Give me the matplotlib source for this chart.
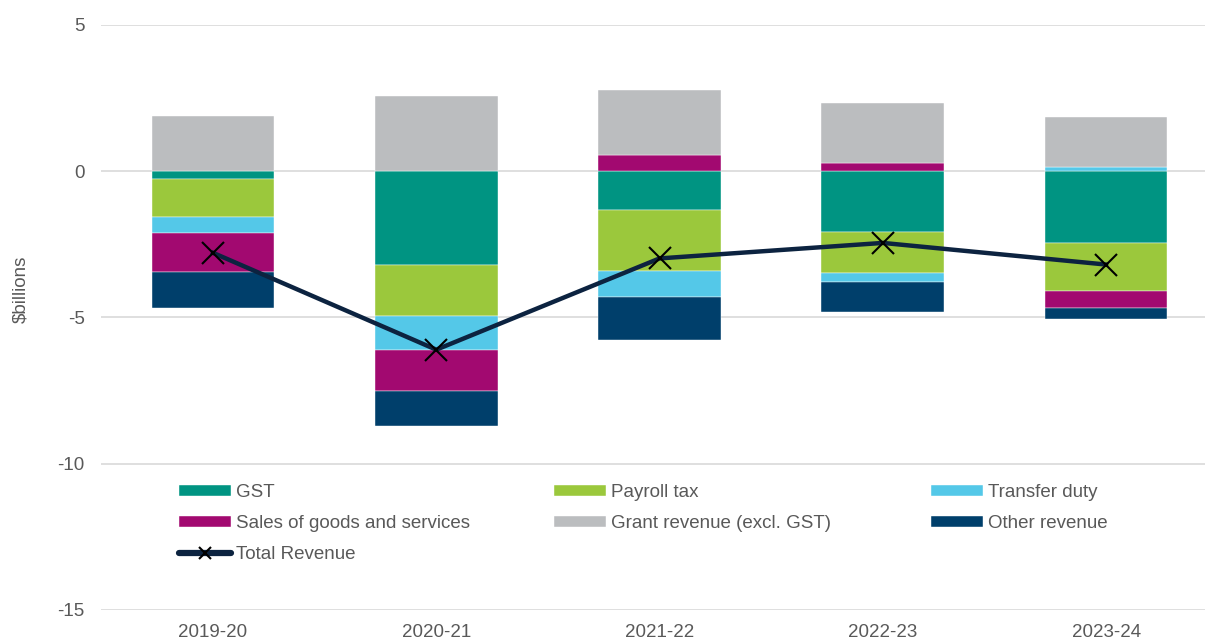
import matplotlib.pyplot as plt
from matplotlib.lines import Line2D
import numpy as np

plt.rcParams['font.family'] = ['Liberation Sans', 'DejaVu Sans']
plt.rcParams['axes.unicode_minus'] = False

years = ['2019-20', '2020-21', '2021-22', '2022-23', '2023-24']

## contribution of each revenue line, $billions
gst = [-0.25, -3.20, -1.32, -2.07, -2.44]
payroll = [-1.30, -1.74, -2.08, -1.40, -1.65]
transfer = [-0.55, -1.16, -0.89, -0.31, 0.15]
sales = [-1.33, -1.40, 0.56, 0.29, -0.58]
grant = [1.90, 2.58, 2.23, 2.05, 1.71]
other = [-1.26, -1.20, -1.47, -1.02, -0.37]
total = [-2.79, -6.10, -2.98, -2.45, -3.19]

series = [
    ('GST', gst, '#009482'),
    ('Payroll tax', payroll, '#9BC83C'),
    ('Transfer duty', transfer, '#54C8E8'),
    ('Sales of goods and services', sales, '#A20970'),
    ('Grant revenue (excl. GST)', grant, '#BBBDBF'),
    ('Other revenue', other, '#003F6B'),
]

W, H = 1205, 641
fig = plt.figure(figsize=(W / 100, H / 100), dpi=100)
ax = fig.add_axes([101.4 / W, 31 / H, 1 - 101.4 / W, 585 / H])

x = np.arange(len(years))
pos_base = np.zeros(len(years))
neg_base = np.zeros(len(years))
handles = {}
for name, vals, col in series:
    v = np.array(vals)
    bottom = np.where(v >= 0, pos_base, neg_base)
    b = ax.bar(x, v, 0.55, bottom=bottom, color=col, label=name, zorder=2,
               edgecolor='white', linewidth=0.3)
    handles[name] = b
    pos_base = pos_base + np.where(v >= 0, v, 0)
    neg_base = neg_base + np.where(v < 0, v, 0)

ax.plot(x, total, color='#0C2340', linewidth=3.2, marker='x', markersize=16,
        markeredgecolor='black', markeredgewidth=1.5, label='Total Revenue', zorder=3)
# legend shows a smaller cross on the line
handles['Total Revenue'] = Line2D([], [], color='#0C2340', linewidth=4.5, marker='x',
                                  markersize=8, markeredgecolor='black',
                                  markeredgewidth=1.5, solid_capstyle='round')

ax.set_xlim(-0.5, 4.443)
ax.set_ylim(-15, 5)
ax.set_yticks([5, 0, -5, -10, -15])
ax.set_xticks(x)
ax.set_xticklabels(years)
ax.grid(axis='y', color='#D9D9D9', linewidth=1.2, zorder=0)
for s in ax.spines.values():
    s.set_visible(False)
ax.tick_params(axis='both', length=0, labelsize=13.5, colors='#595959')
ax.tick_params(axis='y', pad=12)
ax.tick_params(axis='x', pad=10)
ax.set_ylabel(r'\$billions', fontsize=13.5, color='#595959')
ax.yaxis.set_label_coords(-0.065, 0.549)

# three legend columns, laid out like the original
cols = [
    (179, ['GST', 'Sales of goods and services', 'Total Revenue']),
    (554, ['Payroll tax', 'Grant revenue (excl. GST)']),
    (931, ['Transfer duty', 'Other revenue']),
]
for xpix, names in cols:
    fig.legend([handles[n] for n in names], names, frameon=False, fontsize=13.5,
               loc='upper left', bbox_to_anchor=(xpix / W, 1 - 484 / H),
               borderpad=0, borderaxespad=0, handlelength=2.75, handleheight=0.5,
               handletextpad=0.3, labelspacing=0.75, labelcolor='#595959')

fig.savefig('out.png', dpi=100)
